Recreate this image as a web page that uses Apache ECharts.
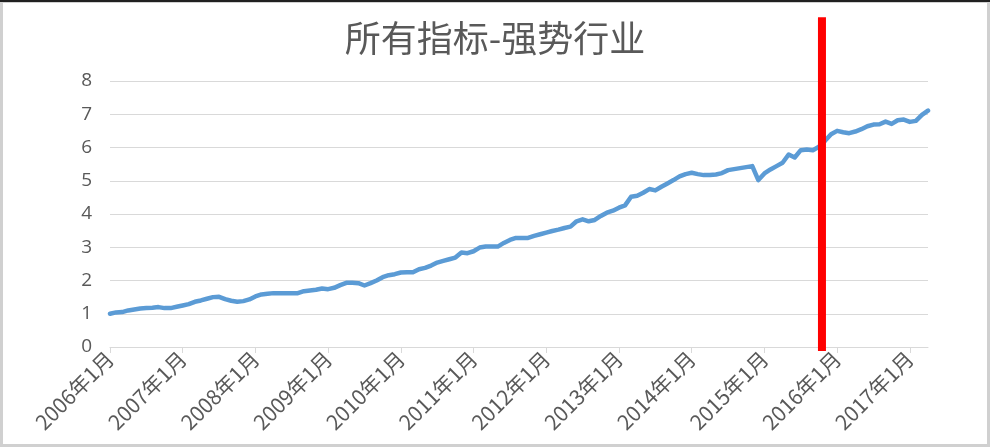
<!DOCTYPE html>
<html>
<head>
<meta charset="utf-8">
<script src="https://cdn.jsdelivr.net/npm/echarts@6/dist/echarts.min.js"></script>
<style>
html,body{margin:0;padding:0;background:#fff;}
#c{width:990px;height:447px;}
</style>
</head>
<body>
<div id="c"></div>
<script>
// Monthly categories 2006-01 .. 2017-04
const startYear = 2006, startMonth = 1, monthCount = 136;
const categories = [];
for (let i = 0; i < monthCount; i++) {
  const y = startYear + Math.floor((startMonth - 1 + i) / 12);
  const m = (startMonth - 1 + i) % 12 + 1;
  categories.push(y + '年' + m + '月');
}
const values = [
  1.00,1.04,1.05,1.10,1.13,1.16,1.17,1.18,1.20,1.17,1.17,1.21,
  1.25,1.29,1.36,1.40,1.45,1.50,1.51,1.44,1.39,1.36,1.38,1.43,
  1.52,1.58,1.60,1.62,1.62,1.62,1.62,1.62,1.68,1.70,1.72,1.76,
  1.74,1.78,1.86,1.93,1.93,1.92,1.85,1.92,2.00,2.10,2.16,2.19,
  2.24,2.25,2.25,2.34,2.38,2.45,2.54,2.59,2.64,2.69,2.84,2.82,
  2.88,2.99,3.02,3.02,3.02,3.13,3.22,3.28,3.28,3.28,3.34,3.39,
  3.44,3.49,3.53,3.58,3.62,3.78,3.84,3.78,3.82,3.94,4.04,4.10,
  4.19,4.26,4.52,4.55,4.64,4.75,4.71,4.82,4.92,5.02,5.13,5.20,
  5.24,5.20,5.17,5.17,5.19,5.23,5.32,5.35,5.38,5.41,5.44,5.02,
  5.22,5.34,5.44,5.54,5.79,5.70,5.92,5.94,5.92,6.02,6.20,6.40,
  6.50,6.46,6.43,6.48,6.55,6.64,6.69,6.70,6.78,6.71,6.82,6.84,
  6.77,6.80,6.98,7.11
];
const yTicks = [0,1,2,3,4,5,6,7,8];
// red marker: between these two months, vertical extent in value units
const markerFrom = 117, markerTo = 118;
const markerTop = 9.92;
const markerBottom = -0.12;

const chart = echarts.init(document.getElementById('c'));
chart.setOption({
  animation: false,
  backgroundColor: '#ffffff',
  title: {
    text: '所有指标-强势行业',
    left: 'center',
    top: 15,
    textStyle: {
      fontFamily: 'Noto Sans CJK SC',
      fontSize: 36,
      fontWeight: 'normal',
      color: '#595959'
    }
  },
  grid: { left: 110, right: 62, top: 81, bottom: 100, containLabel: false },
  xAxis: {
    type: 'category',
    data: categories,
    boundaryGap: false,
    axisLine: { lineStyle: { color: '#D9D9D9', width: 1 } },
    axisTick: { show: true, interval: 11, length: 6, lineStyle: { color: '#D9D9D9' } },
    axisLabel: {
      interval: 11,
      rotate: 45,
      margin: 8,
      fontSize: 21,
      color: '#595959',
      fontFamily: 'Noto Sans CJK SC'
    },
    splitLine: { show: false }
  },
  yAxis: {
    type: 'value',
    min: yTicks[0],
    max: yTicks[yTicks.length - 1],
    interval: 1,
    axisLine: { show: false },
    axisTick: { show: false },
    axisLabel: { fontSize: 19, color: '#595959', margin: 18, fontFamily: 'Open Sans' },
    splitLine: { lineStyle: { color: '#D9D9D9', width: 1 } }
  },
  series: [{
    type: 'line',
    data: values,
    showSymbol: false,
    symbol: 'none',
    smooth: false,
    lineStyle: { color: '#5B9BD5', width: 4.5, cap: 'round', join: 'round' },
    z: 2
  }, {
    type: 'custom',
    silent: true,
    clip: false,
    z: 5,
    data: [[markerFrom, markerTo, markerTop, markerBottom]],
    renderItem: function (params, api) {
      const a = api.coord([api.value(0), api.value(2)]);
      const b = api.coord([api.value(1), api.value(3)]);
      const x = (a[0] + b[0]) / 2;
      return {
        type: 'line',
        shape: { x1: x, y1: a[1], x2: x, y2: b[1] },
        style: { stroke: '#FF0000', lineWidth: 8 }
      };
    }
  }],
  graphic: [
    { type: 'rect', shape: { x: 0, y: 0, width: 990, height: 447 }, style: { fill: 'none', stroke: '#D0D0D0', lineWidth: 6 }, silent: true },
    { type: 'rect', shape: { x: 0, y: 0, width: 990, height: 2 }, style: { fill: '#202020' }, silent: true }
  ]
});
</script>
</body>
</html>
